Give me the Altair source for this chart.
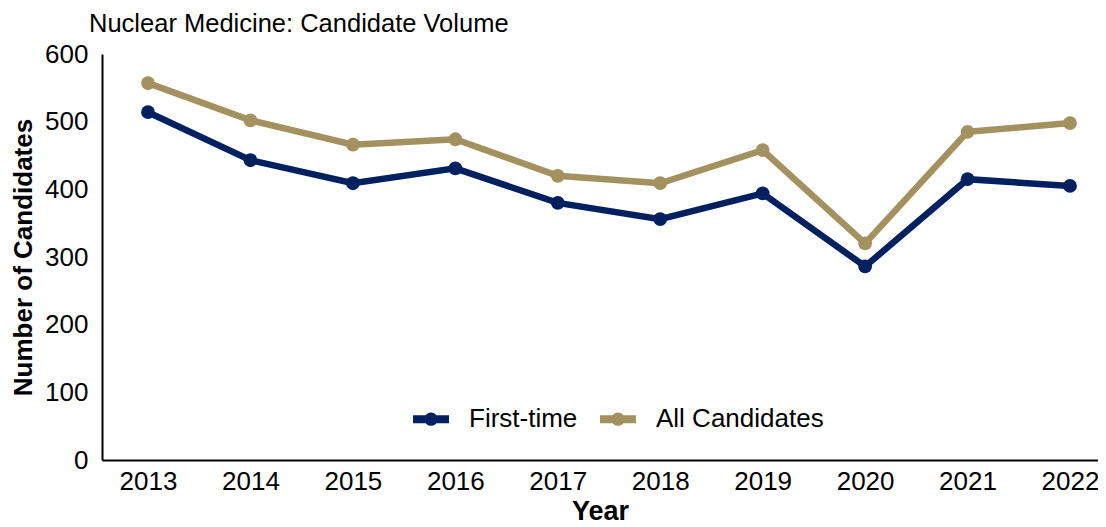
import altair as alt
import pandas as pd

years = ["2013", "2014", "2015", "2016", "2017", "2018", "2019", "2020", "2021", "2022"]
first_time = [514, 443, 409, 431, 380, 356, 394, 286, 415, 405]
all_candidates = [557, 502, 466, 474, 420, 409, 458, 320, 485, 498]
series_names = ["First-time", "All Candidates"]
series_colors = ["#002060", "#A3915F"]

rows = []
for y, v in zip(years, first_time):
    rows.append({"Year": y, "Series": series_names[0], "Candidates": v})
for y, v in zip(years, all_candidates):
    rows.append({"Year": y, "Series": series_names[1], "Candidates": v})
df = pd.DataFrame(rows)

FONT = "Liberation Sans"
sym_path = ("M-1,0L1,0M-0.15,0A0.15,0.15,0,1,0,0.15,0A0.15,0.15,0,1,0,-0.15,0")

chart = alt.Chart(df).mark_line(
    strokeWidth=6.5,
    point=alt.OverlayMarkDef(filled=True, size=190, opacity=1),
).encode(
    x=alt.X("Year:O", sort=years,
            scale=alt.Scale(type="point", padding=0.3614, align=0.6216),
            axis=alt.Axis(title="Year", labelAngle=0, ticks=False, grid=False,
                          domainColor="black", domainWidth=2,
                          labelFont=FONT, labelFontSize=26, labelColor="black",
                          labelPadding=8, labelOverlap=False, labelBound=False,
                          titleFont=FONT, titleFontSize=27, titleFontWeight="bold",
                          titleColor="black", titlePadding=4)),
    y=alt.Y("Candidates:Q",
            scale=alt.Scale(domain=[0, 600], nice=False),
            axis=alt.Axis(title="Number of Candidates", values=[0, 100, 200, 300, 400, 500, 600],
                          ticks=False, grid=False, domainColor="black", domainWidth=2,
                          labelFont=FONT, labelFontSize=26, labelColor="black",
                          labelPadding=14,
                          titleFont=FONT, titleFontSize=26, titleFontWeight="bold",
                          titleColor="black", titlePadding=8)),
    color=alt.Color("Series:N",
                    scale=alt.Scale(domain=series_names, range=series_colors),
                    legend=alt.Legend(title=None, orient="none", direction="horizontal",
                                      legendX=307, legendY=343,
                                      symbolType=sym_path, symbolSize=1296,
                                      symbolStrokeWidth=8,
                                      labelFont=FONT, labelFontSize=26, labelColor="black",
                                      labelLimit=400,
                                      labelOffset=16, columnPadding=6)),
).properties(
    width=996,
    height=406,
    title=alt.TitleParams("Nuclear Medicine: Candidate Volume", anchor="start", frame="group",
                          font=FONT, fontSize=25.5, fontWeight="normal", color="black",
                          offset=4, dx=-13),
    autosize=alt.AutoSizeParams(type="none"),
    padding={"left": 94, "top": 46, "right": 0, "bottom": 68},
).configure_view(stroke=None)

chart.save("out.html", embed_options={"renderer": "svg", "actions": False})
